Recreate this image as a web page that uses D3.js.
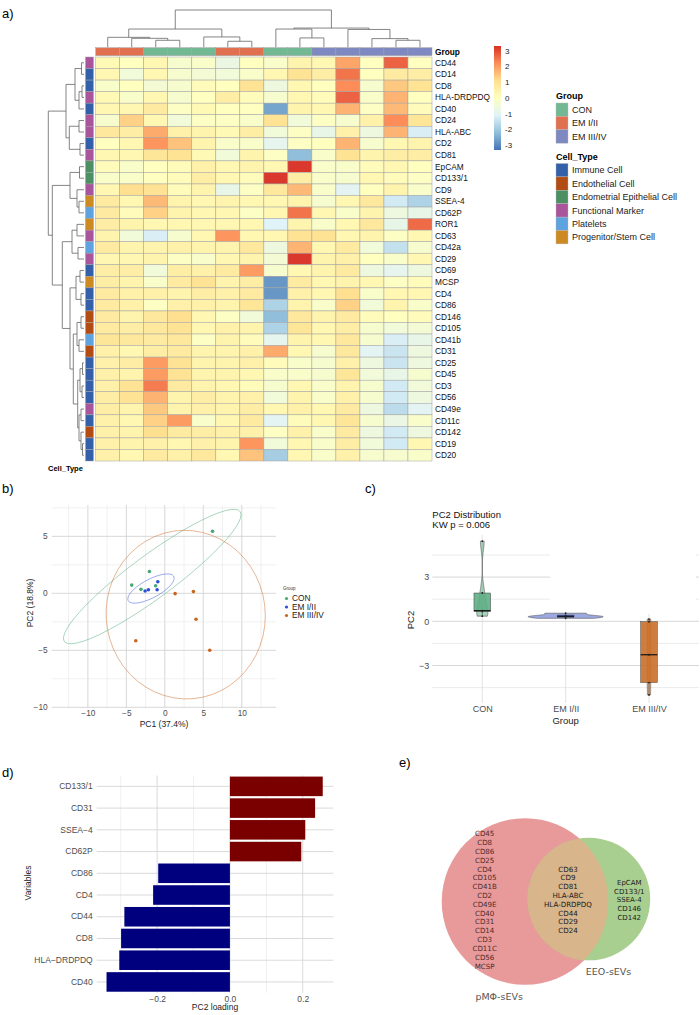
<!DOCTYPE html>
<html>
<head>
<meta charset="utf-8">
<script src="https://cdn.jsdelivr.net/npm/d3@7"></script>
<style>
  body { margin: 0; background: #fff; }
  svg { display: block; font-family: "Liberation Sans", Arial, sans-serif; }
</style>
</head>
<body>
<svg id="fig" width="700" height="1015"></svg>
<script>
// ---- a) heatmap data ----
var rowNames = ["CD44","CD14","CD8","HLA-DRDPDQ","CD40","CD24","HLA-ABC","CD2","CD81","EpCAM","CD133/1","CD9",
  "SSEA-4","CD62P","ROR1","CD63","CD42a","CD29","CD69","MCSP","CD4","CD86","CD146","CD105","CD41b","CD31",
  "CD25","CD45","CD3","CD56","CD49e","CD11c","CD142","CD19","CD20"];
var rowCellType = ["Functional Marker","Immune Cell","Immune Cell","Functional Marker","Immune Cell","Functional Marker",
  "Functional Marker","Immune Cell","Functional Marker","Endometrial Epithelial Cell","Endometrial Epithelial Cell",
  "Functional Marker","Progenitor/Stem Cell","Platelets","Progenitor/Stem Cell","Functional Marker","Platelets",
  "Functional Marker","Immune Cell","Progenitor/Stem Cell","Immune Cell","Immune Cell","Endothelial Cell",
  "Endothelial Cell","Platelets","Endothelial Cell","Immune Cell","Immune Cell","Immune Cell","Immune Cell",
  "Functional Marker","Immune Cell","Endothelial Cell","Immune Cell","Immune Cell"];
var colGroups = ["EM I/II","EM I/II","CON","CON","CON","EM I/II","EM I/II","CON","CON",
  "EM III/IV","EM III/IV","EM III/IV","EM III/IV","EM III/IV"];
var groupNames = ["CON","EM I/II","EM III/IV"];
var groupColors = ["#72b893","#e0704f","#7f89c1"];
var cellTypes = ["Immune Cell","Endothelial Cell","Endometrial Epithelial Cell","Functional Marker","Platelets","Progenitor/Stem Cell"];
var cellColors = ["#3360a8","#b34c12","#4b8f62","#a9559b","#5fa2e0","#ce8a22"];
var heatValues = [
  [0.2,0,0.3,-0.3,-0.2,-0.7,0,-0.2,0.4,0.3,1.9,0,2.7,0],
  [0.3,-0.5,0.3,-0.3,-0.4,-0.5,-0.2,0.3,1.0,0.6,2.5,0,0.7,0.6],
  [-0.2,0,-0.4,-0.3,0.1,0,1.0,-0.6,0.3,0,2.2,-0.3,1.4,1.0],
  [0.2,-0.2,0.3,-0.3,0,0.6,0.1,-0.3,0.3,0.1,2.7,-0.2,1.7,0],
  [0.3,0.3,0.7,-0.1,0.2,0,0,-2.6,0.4,0.3,1.7,-0.1,1.6,0.1],
  [-0.3,1.3,0.3,-0.5,-0.1,-0.1,-0.2,1.0,-0.5,-0.1,-0.3,0.5,2.2,0.9],
  [0.8,0.6,1.8,0.5,0.4,0.2,0.6,-0.5,-0.1,-0.8,0.5,-0.6,1.7,-1.2],
  [0,0.3,2.1,1.5,0.4,-0.2,-0.2,-0.9,-0.1,0,1.7,-0.3,0.3,0.4],
  [0.3,0.3,0.9,1.0,0.2,-0.5,0.4,-0.1,-2.2,-0.2,1.0,0.4,0.6,0.6],
  [0.1,-0.2,0,0.1,0.5,0.3,0.4,0.3,3.2,-0.2,-0.2,0.1,0.3,0],
  [-0.2,-0.2,0,0.1,0.6,0.3,0.1,3.2,0.6,-0.2,-0.3,0.3,0.1,-0.1],
  [0.3,1.1,1.0,0.1,0.4,-0.8,-0.1,0.8,1.6,-0.2,-1.0,0,0.4,-0.2],
  [0.7,0.3,1.6,0.4,0.3,0.4,0.3,0.3,0.4,-0.3,0.3,0.8,-1.3,-1.8],
  [0.7,0.1,1.3,0.4,0.3,0.3,-0.1,0.3,2.5,0.3,-0.2,0.4,-0.6,-0.8],
  [0.6,0.4,0.3,0.3,0.3,0.3,0.3,-1.1,0.4,-0.2,0.3,0.8,-0.8,2.6],
  [0.4,-0.5,-1.2,-0.3,0.3,2.1,0.3,0.3,1.0,1.0,0.3,0.4,-0.1,0.3],
  [0.7,0.4,0.4,0.5,0.4,0.4,0.8,-0.6,1.7,0.3,0.7,-0.5,-1.5,-0.3],
  [0.3,0.3,0.4,-0.1,-0.2,0.3,0.4,-0.4,3.2,0.4,0.5,0,-0.2,0.3],
  [0.6,0.6,-0.5,0.6,0.5,0.7,2.0,-0.3,0.3,0.4,0.7,-0.6,-0.9,-0.6],
  [0.6,0.4,-0.2,0.7,1.0,0.4,0.6,-2.8,0.7,0.3,0.4,0.3,-0.1,0.1],
  [0.7,0.5,0.5,0.4,0.6,0.5,0.7,-2.8,0.5,0.3,1.1,-0.2,0.3,0.3],
  [0.7,0.5,-0.1,0.5,0.5,0.4,0.9,-1.8,0.4,-0.2,1.3,-0.5,0.4,-0.2],
  [0.7,0.4,0.8,1.1,0.3,-0.1,-0.5,-2.2,0.8,0.4,0.7,0.1,0,0.1],
  [0.7,0.6,0.8,1.0,0.3,0.5,0.4,-1.8,0.9,0.3,0.6,-0.3,-0.5,-0.4],
  [0.9,0.8,0.7,0.8,-0.1,0.4,0.1,-0.9,0.4,0.3,0.8,-0.3,-1.2,-0.8],
  [0.5,0.3,0.6,0.7,0.4,0.4,0.5,1.8,0.3,-0.3,0.8,-1.0,-1.4,-0.6],
  [0.5,0.6,2.0,1.0,0.4,0.4,0.5,0.1,-0.2,-0.3,0.5,-0.6,-1.4,-0.6],
  [0.5,0.4,2.0,1.0,0.4,0.4,0.3,-0.2,-0.2,-0.3,0.9,-0.5,-0.8,-0.3],
  [0.5,1.0,2.4,0.7,0.4,0.3,0.1,-0.3,0.3,-0.2,0.4,-0.3,-1.3,-0.5],
  [0.6,1.0,1.7,0.4,0.6,0.4,0.5,-0.5,0.4,-0.2,0.5,-0.3,-1.3,-0.6],
  [0.6,0.4,1.4,0.4,0.5,0.4,0.6,0.3,0.5,0.3,0.7,-0.6,-1.6,-1.0],
  [0.5,0.3,1.3,2.0,-0.2,0.3,0.7,-1.0,0.1,0.3,0.9,-0.3,-0.7,-0.2],
  [0.5,0.4,1.1,0.7,0.6,0.5,0.5,-0.1,0.5,-0.2,0.7,-0.6,-1.3,-0.6],
  [0.5,0.4,0.5,0.3,0.5,0.4,2.1,-0.5,0.3,-0.2,0.6,-0.5,-1.3,0.3],
  [0.5,0.3,0.7,0.5,0.8,0.3,1.5,-1.9,0.3,-0.2,0.5,-0.3,-0.3,-0.2]
];
// dendrograms: [mergeHeight, left, right]; leaves = column index / row name
var colTree = [37.7,
  [18.4, [10, 0, [9, 1, [7, 2, 3]]], [10.4, 4, [6, 5, 6]]],
  [19.4, [18.4, 7, [9.4, 8, 9]], [18, 10, [8.7, 11, [7, 12, 13]]]]];
var rowTree = [35.7,
  [18,
    [9, [2.5, "CD44", "CD14"], [5, [2, "CD8", "HLA-DRDPDQ"], "CD40"]],
    [14.7, [5, "CD24", "HLA-ABC"], [4, "CD2", "CD81"]]],
  [31.7,
    [14, [4.5, "EpCAM", "CD133/1"], [7, "CD9", [5, "SSEA-4", "CD62P"]]],
    [21.7,
      [12, [7, "ROR1", "CD63"], [6, "CD42a", "CD29"]],
      [14, [8, [4, "CD69", "MCSP"], [3, "CD4", "CD86"]],
        [10.7, [7, [3, "CD146", "CD105"], [5, "CD41b", "CD31"]],
          [6.3, [4, [1.5, "CD25", "CD45"], [2, "CD3", "CD56"]],
            [5, [3, "CD49e", "CD11c"], [3, "CD142", [1.5, "CD19", "CD20"]]]]]]]]];
var legendTicks = [3, 2, 1, 0, -1, -2, -3];
var heatPalette = ["#4575b4","#91bfdb","#e0f3f8","#ffffbf","#fee090","#fc8d59","#d73027"];

// ---- b) PCA ----
var pcaPC1 = { "CON": [6.2, -2.0, -4.3, -3.1, -1.2], "EM I/II": [-2.56, -2.13, -0.91, -1.0], "EM III/IV": [1.34, 3.72, 4.06, -3.77, 5.84] };
var pcaPC2 = { "CON": [5.44, 1.92, 0.72, 0.35, 0.67], "EM I/II": [0.2, 0.32, 1.01, 0.32], "EM III/IV": [-0.03, 0.15, -2.27, -4.16, -5.0] };
var pcaColors = ["#47a873","#2c4fd6","#c8661f"];

// ---- c) PC2 distribution ----
var violinCON = [0.35, 0.67, 0.72, 1.92, 5.44];
var violinEM12 = [0.2, 0.3, 0.38, 0.55];
var violinEM34 = [0.15, -0.03, -2.27, -4.16, -5.0];
var violinFill = ["#5fae85","#4b62c8","#c96f2a"];

// ---- d) loadings ----
var loadingVars = ["CD133/1","CD31","SSEA\u22124","CD62P","CD86","CD4","CD44","CD8","HLA\u2212DRDPDQ","CD40"];
var loadingValues = [0.255, 0.234, 0.207, 0.196, -0.197, -0.211, -0.290, -0.299, -0.304, -0.339];

// ---- e) Venn ----
var vennSetNames = ["pM\u03a6-sEVs", "EEO-sEVs"];
var vennLeftOnly = ["CD45","CD8","CD86","CD25","CD4","CD105","CD41B","CD2","CD49E","CD40","CD31","CD14","CD3","CD11C","CD56","MCSP"];
var vennBoth = ["CD63","CD9","CD81","HLA-ABC","HLA-DRDPDQ","CD44","CD29","CD24"];
var vennRightOnly = ["EpCAM","CD133/1","SSEA-4","CD146","CD142"];

var svg = d3.select("#fig");

// panel letters
[["a)", 2, 18], ["b)", 2, 493], ["c)", 365, 493], ["d)", 2, 777], ["e)", 399, 767]].forEach(function (l) {
  svg.append("text").attr("x", l[1]).attr("y", l[2]).text(l[0]).style("font-size", "13px");
});

// ================= a) heatmap =================
var hx = d3.scaleBand().domain(d3.range(colGroups.length)).range([95.7, 432]);
var hy = d3.scaleBand().domain(rowNames).range([57, 461]);
var heatColor = d3.scaleLinear()
  .domain(heatPalette.map(function (d, i) { return -3.3 + i * 1.1; }))
  .range(heatPalette).clamp(true);
var groupColor = d3.scaleOrdinal().domain(groupNames).range(groupColors);
var cellColor = d3.scaleOrdinal().domain(cellTypes).range(cellColors);

var gHeat = svg.append("g");
heatValues.forEach(function (row, r) {
  gHeat.selectAll(null).data(row).enter().append("rect")
    .attr("x", function (d, c) { return hx(c); })
    .attr("y", hy(rowNames[r]))
    .attr("width", hx.bandwidth())
    .attr("height", hy.bandwidth())
    .attr("fill", function (d) { return heatColor(d); })
    .attr("stroke", "#a3a3a3").attr("stroke-width", 0.5);
});
gHeat.selectAll(".grp").data(colGroups).enter().append("rect")
  .attr("x", function (d, c) { return hx(c); })
  .attr("y", 47.7).attr("width", hx.bandwidth()).attr("height", 8)
  .attr("fill", function (d) { return groupColor(d); })
  .attr("stroke", "#a3a3a3").attr("stroke-width", 0.5);
gHeat.selectAll(".ct").data(rowCellType).enter().append("rect")
  .attr("x", 85.5).attr("y", function (d, i) { return hy(rowNames[i]); })
  .attr("width", 8).attr("height", hy.bandwidth())
  .attr("fill", function (d) { return cellColor(d); })
  .attr("stroke", "#a3a3a3").attr("stroke-width", 0.5);

gHeat.selectAll(".rl").data(rowNames).enter().append("text")
  .attr("x", 435).attr("y", function (d) { return hy(d) + hy.bandwidth() / 2; })
  .attr("dy", "0.35em").text(function (d) { return d; })
  .style("font-size", "8.3px").attr("fill", "#111");
gHeat.append("text").attr("x", 435).attr("y", 54.7).text("Group")
  .style("font-size", "8.3px").style("font-weight", "bold");
gHeat.append("text").attr("x", 48).attr("y", 471).text("Cell_Type")
  .style("font-size", "7.5px").style("font-weight", "bold");

// dendrograms
function treeLinks(node, pos, out) {
  if (!Array.isArray(node)) return { p: pos(node), h: 0 };
  var a = treeLinks(node[1], pos, out), b = treeLinks(node[2], pos, out);
  var m = { p: (a.p + b.p) / 2, h: node[0] };
  out.push({ a: a, b: b, m: m });
  return m;
}
var colLinks = [];
treeLinks(colTree, function (c) { return hx(c) + hx.bandwidth() / 2; }, colLinks);
var colH = d3.scaleLinear().domain([0, colTree[0]]).range([47.2, 10]);
gHeat.selectAll(".cd").data(colLinks).enter().append("path")
  .attr("d", function (l) {
    return "M" + l.a.p + "," + colH(l.a.h) + "V" + colH(l.m.h) + "H" + l.b.p + "V" + colH(l.b.h);
  })
  .attr("fill", "none").attr("stroke", "#666").attr("stroke-width", 0.8);

var rowLinks = [];
treeLinks(rowTree, function (n) { return hy(n) + hy.bandwidth() / 2; }, rowLinks);
var rowH = d3.scaleLinear().domain([0, rowTree[0]]).range([84, 48.3]);
gHeat.selectAll(".rd").data(rowLinks).enter().append("path")
  .attr("d", function (l) {
    return "M" + rowH(l.a.h) + "," + l.a.p + "H" + rowH(l.m.h) + "V" + l.b.p + "H" + rowH(l.b.h);
  })
  .attr("fill", "none").attr("stroke", "#666").attr("stroke-width", 0.8);

// colour bar legend
var legY = d3.scaleLinear().domain([-3.3, 3.3]).range([150, 46]);
var grad = svg.append("defs").append("linearGradient").attr("id", "heatGrad")
  .attr("x1", 0).attr("x2", 0).attr("y1", 1).attr("y2", 0);
grad.selectAll("stop").data(heatPalette).enter().append("stop")
  .attr("offset", function (d, i) { return i / (heatPalette.length - 1); })
  .attr("stop-color", function (d) { return d; });
svg.append("rect").attr("x", 494).attr("y", legY(3.3)).attr("width", 7)
  .attr("height", legY(-3.3) - legY(3.3)).attr("fill", "url(#heatGrad)");
svg.selectAll(".lt").data(legendTicks).enter().append("text")
  .attr("x", 505).attr("y", function (d) { return legY(d); }).attr("dy", "0.35em")
  .text(function (d) { return String(d); }).style("font-size", "8px").attr("fill", "#222");

// annotation legends
function annoLegend(title, names, colorScale, top) {
  var g = svg.append("g");
  g.append("text").attr("x", 556).attr("y", top).text(title)
    .style("font-size", "9px").style("font-weight", "bold");
  g.selectAll("rect").data(names).enter().append("rect")
    .attr("x", 556).attr("y", function (d, i) { return top + 4 + i * 13.4; })
    .attr("width", 12).attr("height", 13.4)
    .attr("fill", function (d) { return colorScale(d); })
    .attr("stroke", "#bbb").attr("stroke-width", 0.4);
  g.selectAll("text.it").data(names).enter().append("text").attr("class", "it")
    .attr("x", 572).attr("y", function (d, i) { return top + 4 + i * 13.4 + 6.7; })
    .attr("dy", "0.35em").text(function (d) { return d; }).style("font-size", "9px").attr("fill", "#222");
}
annoLegend("Group", groupNames, groupColor, 99);
annoLegend("Cell_Type", cellTypes, cellColor, 159.5);

// ================= b) PCA =================
var px = d3.scaleLinear().domain([-14.7, 14.45]).range([51.7, 276]);
var py = d3.scaleLinear().domain([-10, 7.6]).range([707.3, 506.7]);
var gB = svg.append("g");
d3.range(-12.5, 12.6, 2.5).forEach(function (v) {
  var major = v % 5 === 0;
  gB.append("line").attr("x1", px(v)).attr("x2", px(v)).attr("y1", 505).attr("y2", 708)
    .attr("stroke", major ? "#d2d2d2" : "#e6e6e6").attr("stroke-width", major ? 0.9 : 0.6);
});
d3.range(-10, 7.6, 2.5).forEach(function (v) {
  var major = v % 5 === 0;
  gB.append("line").attr("x1", 51.7).attr("x2", 276).attr("y1", py(v)).attr("y2", py(v))
    .attr("stroke", major ? "#d2d2d2" : "#e6e6e6").attr("stroke-width", major ? 0.9 : 0.6);
});
gB.append("g").attr("transform", "translate(0,708)")
  .call(d3.axisBottom(px).tickValues([-10, -5, 0, 5, 10]).tickSize(0).tickPadding(2))
  .call(function (g) { g.select(".domain").remove(); })
  .selectAll("text").style("font-size", "8.3px").attr("fill", "#4d4d4d").style("font-family", "Liberation Sans, Arial, sans-serif");
gB.append("g").attr("transform", "translate(51.7,0)")
  .call(d3.axisLeft(py).tickValues([-10, -5, 0, 5]).tickSize(0).tickPadding(4))
  .call(function (g) { g.select(".domain").remove(); })
  .selectAll("text").style("font-size", "8.3px").attr("fill", "#4d4d4d").style("font-family", "Liberation Sans, Arial, sans-serif");
gB.append("text").attr("x", 164).attr("y", 726.5).attr("text-anchor", "middle")
  .text("PC1 (37.4%)").style("font-size", "8.5px").attr("fill", "#222");
gB.append("text").attr("transform", "translate(33,603) rotate(-90)").attr("text-anchor", "middle")
  .text("PC2 (18.8%)").style("font-size", "8.5px").attr("fill", "#222");

// robust t covariance (as MASS::cov.trob) used by stat_ellipse
function covTrob(xs, ys) {
  var n = xs.length, nu = 5, w = xs.map(function () { return 1; });
  var loc = [d3.mean(xs), d3.mean(ys)], X;
  for (var it = 0; it < 25; it++) {
    var w0 = w.slice();
    X = xs.map(function (x, i) { return [x - loc[0], ys[i] - loc[1]]; });
    var sw = d3.sum(w), a = 0, b = 0, c = 0;
    X.forEach(function (d, i) { a += w[i] * d[0] * d[0] / sw; b += w[i] * d[0] * d[1] / sw; c += w[i] * d[1] * d[1] / sw; });
    var det = a * c - b * b;
    var Q = X.map(function (d) { return (c * d[0] * d[0] - 2 * b * d[0] * d[1] + a * d[1] * d[1]) / det; });
    w = Q.map(function (q) { return (nu + 2) / (nu + q); });
    var ws = d3.sum(w);
    loc = [d3.sum(xs, function (x, i) { return w[i] * x; }) / ws, d3.sum(ys, function (y, i) { return w[i] * y; }) / ws];
    if (d3.max(w, function (v, i) { return Math.abs(v - w0[i]); }) < 0.01) break;
  }
  var s11 = 0, s12 = 0, s22 = 0;
  X.forEach(function (d, i) { s11 += w[i] * d[0] * d[0]; s12 += w[i] * d[0] * d[1]; s22 += w[i] * d[1] * d[1]; });
  return { center: loc, cov: [s11 / n, s12 / n, s22 / n] };
}
function ellipsePts(xs, ys) {
  var v = covTrob(xs, ys), dfd = xs.length - 1;
  var radius = Math.sqrt(2 * (dfd / 2) * (Math.pow(0.05, -2 / dfd) - 1));
  var a = Math.sqrt(v.cov[0]), b = v.cov[1] / a, c = Math.sqrt(v.cov[2] - b * b);
  return d3.range(0, 52).map(function (k) {
    var t = k * 2 * Math.PI / 51;
    return [v.center[0] + radius * Math.cos(t) * a, v.center[1] + radius * (Math.cos(t) * b + Math.sin(t) * c)];
  });
}
var ellLine = d3.line().x(function (d) { return px(d[0]); }).y(function (d) { return py(d[1]); });
groupNames.forEach(function (g, gi) {
  gB.append("path").datum(ellipsePts(pcaPC1[g], pcaPC2[g])).attr("d", ellLine)
    .attr("fill", "none").attr("stroke", pcaColors[gi]).attr("stroke-opacity", 0.6).attr("stroke-width", 0.8);
});
groupNames.forEach(function (g, gi) {
  gB.selectAll(null).data(pcaPC1[g]).enter().append("circle")
    .attr("cx", function (d) { return px(d); })
    .attr("cy", function (d, i) { return py(pcaPC2[g][i]); })
    .attr("r", 1.8).attr("fill", pcaColors[gi]);
});
gB.append("text").attr("x", 283).attr("y", 590).text("Group").style("font-size", "4.5px").attr("fill", "#333");
groupNames.forEach(function (g, gi) {
  gB.append("circle").attr("cx", 286.5).attr("cy", 598.5 + gi * 8.5).attr("r", 1.6).attr("fill", pcaColors[gi]);
  gB.append("text").attr("x", 292).attr("y", 598.5 + gi * 8.5).attr("dy", "0.35em").text(g)
    .style("font-size", "8.3px").attr("fill", "#222");
});

// ================= c) PC2 distribution =================
var cx = d3.scalePoint().domain(groupNames).range([482.3, 649]);
var step = cx.step();
var cy = d3.scaleLinear().domain([0, 3]).range([621.3, 577.1]);
var gC = svg.append("g");
[-4.5, -3, -1.5, 0, 1.5, 3, 4.5].forEach(function (v) {
  var major = v % 3 === 0;
  gC.append("line").attr("x1", 432.3).attr("x2", 699).attr("y1", cy(v)).attr("y2", cy(v))
    .attr("stroke", major ? "#d2d2d2" : "#e2e2e2").attr("stroke-width", major ? 0.9 : 0.7);
});
groupNames.forEach(function (g) {
  gC.append("line").attr("x1", cx(g)).attr("x2", cx(g)).attr("y1", 535).attr("y2", 703)
    .attr("stroke", "#dcdcdc").attr("stroke-width", 0.8);
});
// empty legend area
gC.append("rect").attr("x", 550).attr("y", 530).attr("width", 146).attr("height", 84).attr("fill", "#fff");

var violinData = [violinCON, violinEM12, violinEM34];
function bwNrd0(v) {
  var s = v.slice().sort(d3.ascending);
  var iqr = d3.quantile(s, 0.75) - d3.quantile(s, 0.25);
  return 0.9 * Math.min(d3.deviation(v), iqr / 1.34) * Math.pow(v.length, -0.2);
}
var dens = violinData.map(function (v) {
  var bw = bwNrd0(v), lo = d3.min(v), hi = d3.max(v);
  return d3.range(0, 101).map(function (i) {
    var y = lo + (hi - lo) * i / 100;
    return { y: y, d: d3.mean(v, function (x) { return Math.exp(-0.5 * Math.pow((y - x) / bw, 2)); }) / (bw * Math.sqrt(2 * Math.PI)) };
  });
});
var maxDens = d3.max(dens, function (a) { return d3.max(a, function (p) { return p.d; }); });
var vw = d3.scaleLinear().domain([0, maxDens]).range([0, 0.45 * step]);
dens.forEach(function (a, gi) {
  var c0 = cx(groupNames[gi]);
  gC.append("path").datum(a)
    .attr("d", d3.area().y(function (p) { return cy(p.y); })
      .x0(function (p) { return c0 - vw(p.d); }).x1(function (p) { return c0 + vw(p.d); }))
    .attr("fill", violinFill[gi]).attr("fill-opacity", 0.55)
    .attr("stroke", "#555").attr("stroke-width", 0.6);
});
violinData.forEach(function (v, gi) {
  var c0 = cx(groupNames[gi]), s = v.slice().sort(d3.ascending), bwid = 0.2 * step;
  var q1 = d3.quantile(s, 0.25), q2 = d3.quantile(s, 0.5), q3 = d3.quantile(s, 0.75), iqr = q3 - q1;
  var lowW = d3.min(s.filter(function (x) { return x >= q1 - 1.5 * iqr; }));
  var hiW = d3.max(s.filter(function (x) { return x <= q3 + 1.5 * iqr; }));
  gC.append("line").attr("x1", c0).attr("x2", c0).attr("y1", cy(lowW)).attr("y2", cy(q1)).attr("stroke", "#444").attr("stroke-width", 0.6);
  gC.append("line").attr("x1", c0).attr("x2", c0).attr("y1", cy(hiW)).attr("y2", cy(q3)).attr("stroke", "#444").attr("stroke-width", 0.6);
  gC.append("rect").attr("x", c0 - bwid / 2).attr("y", cy(q3)).attr("width", bwid)
    .attr("height", Math.max(cy(q1) - cy(q3), 1)).attr("fill", violinFill[gi]).attr("fill-opacity", 0.9)
    .attr("stroke", "#444").attr("stroke-width", 0.5);
  gC.append("line").attr("x1", c0 - bwid / 2).attr("x2", c0 + bwid / 2).attr("y1", cy(q2)).attr("y2", cy(q2))
    .attr("stroke", "#111").attr("stroke-width", 1.2);
  gC.selectAll(null).data(v).enter().append("circle")
    .attr("cx", c0).attr("cy", function (d) { return cy(d); }).attr("r", 0.9).attr("fill", "#222");
});
gC.append("g").attr("transform", "translate(432.3,0)")
  .call(d3.axisLeft(cy).tickValues([-3, 0, 3]).tickFormat(d3.format("d")).tickSize(0).tickPadding(3))
  .call(function (g) { g.select(".domain").remove(); })
  .selectAll("text").style("font-size", "9px").attr("fill", "#4d4d4d").style("font-family", "Liberation Sans, Arial, sans-serif");
gC.append("g").attr("transform", "translate(0,703)")
  .call(d3.axisBottom(cx).tickSize(0).tickPadding(3))
  .call(function (g) { g.select(".domain").remove(); })
  .selectAll("text").style("font-size", "9px").attr("fill", "#4d4d4d").style("font-family", "Liberation Sans, Arial, sans-serif");
gC.append("text").attr("x", 565.7).attr("y", 723.5).attr("text-anchor", "middle").text("Group")
  .style("font-size", "9.5px").attr("fill", "#222");
gC.append("text").attr("transform", "translate(414,620) rotate(-90)").attr("text-anchor", "middle")
  .text("PC2").style("font-size", "9.5px").attr("fill", "#222");
gC.append("text").attr("x", 432.3).attr("y", 517.5).text("PC2 Distribution").style("font-size", "9.5px").attr("fill", "#111");
gC.append("text").attr("x", 432.3).attr("y", 528).text("KW p = 0.006").style("font-size", "9.5px").attr("fill", "#111");

// ================= d) PC2 loadings =================
var dx = d3.scaleLinear().domain([-0.366, 0.284]).range([96.7, 333.3]);
var dy = d3.scaleBand().domain(loadingVars).range([775.5, 992.8]).paddingInner(0.1).paddingOuter(0.05);
var gD = svg.append("g");
[-0.3, -0.2, -0.1, 0, 0.1, 0.2].forEach(function (v) {
  var major = Math.abs(v * 10) % 2 < 0.01;
  gD.append("line").attr("x1", dx(v)).attr("x2", dx(v)).attr("y1", 775.5).attr("y2", 992.8)
    .attr("stroke", major ? "#d6d6d6" : "#e6e6e6").attr("stroke-width", major ? 0.9 : 0.6);
});
loadingVars.forEach(function (v) {
  gD.append("line").attr("x1", 96.7).attr("x2", 333.3).attr("y1", dy(v) + dy.bandwidth() / 2).attr("y2", dy(v) + dy.bandwidth() / 2)
    .attr("stroke", "#d6d6d6").attr("stroke-width", 0.9);
});
gD.selectAll(".bar").data(loadingValues).enter().append("rect")
  .attr("x", function (d) { return dx(Math.min(0, d)); })
  .attr("y", function (d, i) { return dy(loadingVars[i]); })
  .attr("width", function (d) { return Math.abs(dx(d) - dx(0)); })
  .attr("height", dy.bandwidth())
  .attr("fill", function (d) { return d > 0 ? "#7a0000" : "#00007f"; });
gD.append("g").attr("transform", "translate(96.7,0)")
  .call(d3.axisLeft(dy).tickSize(0).tickPadding(4))
  .call(function (g) { g.select(".domain").remove(); })
  .selectAll("text").style("font-size", "8.5px").attr("fill", "#4d4d4d").style("font-family", "Liberation Sans, Arial, sans-serif");
gD.append("g").attr("transform", "translate(0,992.8)")
  .call(d3.axisBottom(dx).tickValues([-0.2, 0, 0.2]).tickFormat(d3.format(".1f")).tickSize(0).tickPadding(3))
  .call(function (g) { g.select(".domain").remove(); })
  .selectAll("text").style("font-size", "8.5px").attr("fill", "#4d4d4d").style("font-family", "Liberation Sans, Arial, sans-serif");
gD.append("text").attr("x", 215).attr("y", 1010).attr("text-anchor", "middle").text("PC2 loading")
  .style("font-size", "8.5px").attr("fill", "#222");
gD.append("text").attr("transform", "translate(31,883) rotate(-90)").attr("text-anchor", "middle")
  .text("Variables").style("font-size", "8.5px").attr("fill", "#222");

// ================= e) Venn =================
var nLeft = vennLeftOnly.length + vennBoth.length, nRight = vennRightOnly.length + vennBoth.length;
var vr = d3.scaleSqrt().domain([0, nLeft]).range([0, 83.3]);
var r1 = vr(nLeft), r2 = vr(nRight), target = Math.PI * Math.pow(vr(vennBoth.length), 2);
function lens(d) {
  var a1 = Math.acos((d * d + r1 * r1 - r2 * r2) / (2 * d * r1)), a2 = Math.acos((d * d + r2 * r2 - r1 * r1) / (2 * d * r2));
  return r1 * r1 * a1 + r2 * r2 * a2 - 0.5 * Math.sqrt((-d + r1 + r2) * (d + r1 - r2) * (d - r1 + r2) * (d + r1 + r2));
}
var lo = r1 - r2 + 0.01, hi = r1 + r2 - 0.01;
for (var k = 0; k < 60; k++) { var mid = (lo + hi) / 2; if (lens(mid) > target) lo = mid; else hi = mid; }
var dist = (lo + hi) / 2;
var vc1 = [525, 901.5], vc2 = [525 + dist, 899];
var gE = svg.append("g").style("font-family", "DejaVu Sans, sans-serif");
gE.append("defs").append("clipPath").attr("id", "clipL").append("circle").attr("cx", vc1[0]).attr("cy", vc1[1]).attr("r", r1);
gE.append("circle").attr("cx", vc1[0]).attr("cy", vc1[1]).attr("r", r1).attr("fill", "#e89a9b");
gE.append("circle").attr("cx", vc2[0]).attr("cy", vc2[1]).attr("r", r2).attr("fill", "#a9cf90");
gE.append("circle").attr("cx", vc2[0]).attr("cy", vc2[1]).attr("r", r2).attr("fill", "#d8b58b").attr("clip-path", "url(#clipL)");
function vennList(items, x, color, size, weight) {
  var lh = size * 1.24, y0 = 900 - (items.length - 1) * lh / 2;
  gE.selectAll(null).data(items).enter().append("text")
    .attr("x", x).attr("y", function (d, i) { return y0 + i * lh; }).attr("dy", "0.35em")
    .attr("text-anchor", "middle").text(function (d) { return d; })
    .style("font-size", size + "px").style("font-weight", weight).attr("fill", color);
}
vennList(vennLeftOnly, ((vc1[0] - r1) + (vc2[0] - r2)) / 2, "#4d2c2c", 7.1, "normal");
vennList(vennBoth, ((vc2[0] - r2) + (vc1[0] + r1)) / 2, "#1a1a1a", 7.1, "normal");
vennList(vennRightOnly, ((vc1[0] + r1) + (vc2[0] + r2)) / 2, "#1a1a1a", 7.0, "normal");
gE.append("text").attr("x", vc1[0] - 0.31 * r1).attr("y", vc1[1] + r1 + 15).attr("text-anchor", "middle")
  .text(vennSetNames[0]).style("font-size", "9.5px").attr("fill", "#555");
gE.append("text").attr("x", vc2[0] + 0.32 * r2).attr("y", vc2[1] + r2 + 15).attr("text-anchor", "middle")
  .text(vennSetNames[1]).style("font-size", "9.5px").attr("fill", "#555");
</script>
</body>
</html>
